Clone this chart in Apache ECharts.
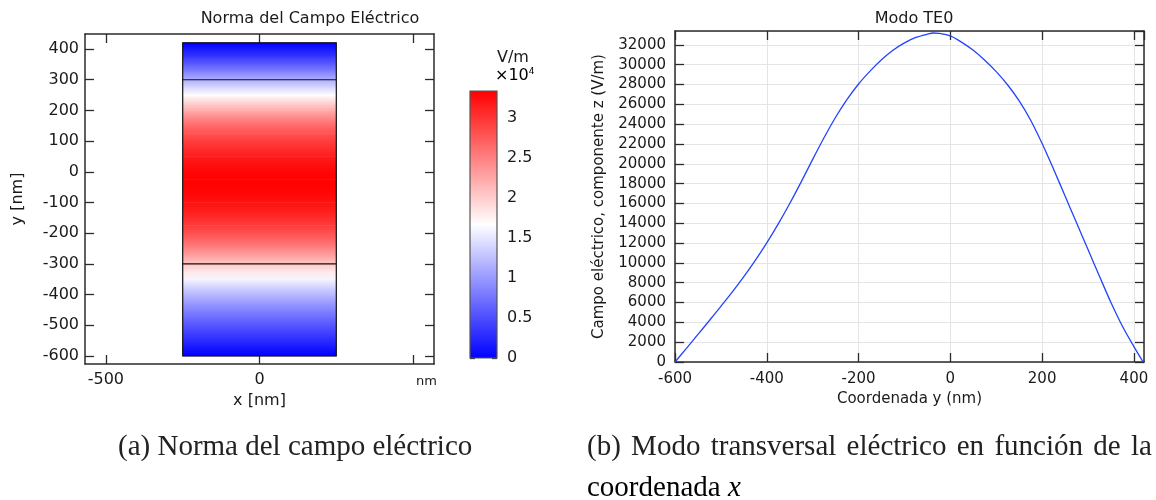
<!DOCTYPE html>
<html>
<head>
<meta charset="utf-8">
<script src="https://cdn.jsdelivr.net/npm/echarts@6/dist/echarts.min.js"></script>
<style>
  html, body { margin: 0; padding: 0; background: #ffffff; }
  #chart { width: 1156px; height: 500px; }
</style>
</head>
<body>
<div id="chart"></div>
<script>
// Perfil del modo TE0: coordenada y (nm) y componente z del campo eléctrico (V/m)
const coordY = [-600, -575, -550, -525, -500, -475, -450, -425, -400, -375, -350, -325, -300, -275, -250, -225, -200, -175, -150, -125, -100, -75, -50, -37, -25, 0, 25, 50, 75, 100, 125, 150, 175, 200, 225, 250, 275, 300, 325, 350, 375, 400, 420];
const campoEz = [0, 1380, 2780, 4190, 5620, 7080, 8620, 10260, 12020, 13930, 15990, 18180, 20450, 22650, 24700, 26500, 28050, 29350, 30500, 31450, 32200, 32750, 33080, 33200, 33170, 32900, 32250, 31450, 30450, 29300, 27950, 26350, 24400, 22050, 19450, 16750, 14050, 11350, 8650, 6000, 3600, 1550, 0];

// Geometría de la guía (nm)
const dominioX = [-250, 250];
const dominioY = [-600, 420];
const nucleoY = [-300, 300];

// Escala de color (V/m) y marcas de la barra (×10^4 V/m)
const normaMax = 33300;
const barraTicks = [0, 0.5, 1, 1.5, 2, 2.5, 3];
const ejeXTicks = [-500, 0, 500];
const ejeXEtiquetas = [-500, 0];
const ejeYTicks = [-600, -500, -400, -300, -200, -100, 0, 100, 200, 300, 400];

const FONT = 'DejaVu Sans';
const TXT = '#1a1a1a';
const FRAME = '#2b2b2b';

// Mapa azul - blanco - rojo
const mapaStops = [[0, [0, 0, 255]], [0.5, [255, 255, 255]], [1, [255, 0, 0]]];
function colorDe(v) {
  const t = Math.max(0, Math.min(1, v / normaMax));
  for (let k = 1; k < mapaStops.length; k++) {
    const [t1, c1] = mapaStops[k];
    const [t0, c0] = mapaStops[k - 1];
    if (t <= t1) {
      const f = (t - t0) / (t1 - t0);
      const c = c0.map((a, j) => Math.round(a + (c1[j] - a) * f));
      return 'rgb(' + c.join(',') + ')';
    }
  }
  return 'rgb(255,0,0)';
}

// Franjas horizontales del mapa de la norma (constante en x)
const franjas = [];
for (let i = 0; i < coordY.length - 1; i++) {
  franjas.push([coordY[i], coordY[i + 1], Math.abs(campoEz[i]), Math.abs(campoEz[i + 1])]);
}

const chart = echarts.init(document.getElementById('chart'), null, { renderer: 'canvas' });

const tickStyle = { color: FRAME, width: 1.3 };
const lineStyle = { color: FRAME, width: 1.5 };
const marco = { onZero: false, lineStyle };
const plano = v => String(v);

const option = {
  backgroundColor: '#ffffff',
  animation: false,
  textStyle: { fontFamily: FONT, color: TXT },
  title: [
    { text: 'Norma del Campo Eléctrico', left: 305, top: 6, textAlign: 'center',
      textStyle: { fontFamily: FONT, fontSize: 16, fontWeight: 'normal', color: TXT } },
    { text: 'Modo TE0', left: 909, top: 6, textAlign: 'center',
      textStyle: { fontFamily: FONT, fontSize: 16, fontWeight: 'normal', color: TXT } }
  ],
  grid: [
    { left: 85, top: 34, width: 349, height: 330 },
    { left: 470, top: 91, width: 27, height: 267 },
    { left: 675, top: 31, width: 469, height: 331 }
  ],
  xAxis: [
    { gridIndex: 0, type: 'value', position: 'bottom', min: -568, max: 568,
      axisLine: marco, splitLine: { show: false },
      axisTick: { inside: true, length: 9, lineStyle: tickStyle, customValues: ejeXTicks },
      axisLabel: { customValues: ejeXEtiquetas, formatter: plano, fontFamily: FONT, fontSize: 16, color: TXT, margin: 8 },
      name: 'x [nm]', nameLocation: 'middle', nameGap: 22,
      nameTextStyle: { fontFamily: FONT, fontSize: 16, color: TXT } },
    { gridIndex: 0, type: 'value', position: 'top', min: -568, max: 568,
      axisLine: marco, splitLine: { show: false },
      axisTick: { inside: true, length: 9, lineStyle: tickStyle, customValues: ejeXTicks },
      axisLabel: { show: false } },
    { gridIndex: 1, type: 'value', min: 0, max: 1, show: false },
    { gridIndex: 2, type: 'value', position: 'bottom', min: -600, max: 422, interval: 200,
      axisLine: marco,
      splitLine: { show: true, lineStyle: { color: '#e4e4e4', width: 1 } },
      axisTick: { inside: true, length: 9, lineStyle: tickStyle },
      axisLabel: { showMaxLabel: false, formatter: plano, fontFamily: FONT, fontSize: 15, color: TXT, margin: 10 },
      name: 'Coordenada y (nm)', nameLocation: 'middle', nameGap: 23,
      nameTextStyle: { fontFamily: FONT, fontSize: 15, color: TXT } },
    { gridIndex: 2, type: 'value', position: 'top', min: -600, max: 422, interval: 200,
      axisLine: marco, splitLine: { show: false },
      axisTick: { inside: true, length: 9, lineStyle: tickStyle },
      axisLabel: { show: false } }
  ],
  yAxis: [
    { gridIndex: 0, type: 'value', position: 'left', min: -626, max: 449,
      axisLine: marco, splitLine: { show: false },
      axisTick: { inside: true, length: 9, lineStyle: tickStyle, customValues: ejeYTicks },
      axisLabel: { customValues: ejeYTicks, formatter: plano, fontFamily: FONT, fontSize: 16, color: TXT, margin: 6 },
      name: 'y [nm]', nameLocation: 'middle', nameGap: 59, nameRotate: 90,
      nameTextStyle: { fontFamily: FONT, fontSize: 16, color: TXT } },
    { gridIndex: 0, type: 'value', position: 'right', min: -626, max: 449,
      axisLine: marco, splitLine: { show: false },
      axisTick: { inside: true, length: 9, lineStyle: tickStyle, customValues: ejeYTicks },
      axisLabel: { show: false } },
    { gridIndex: 1, type: 'value', position: 'right', min: 0, max: normaMax / 1e4,
      axisLine: { show: false, onZero: false }, splitLine: { show: false },
      axisTick: { inside: true, length: 5, lineStyle: { color: '#333', width: 1.3 }, customValues: barraTicks },
      axisLabel: { customValues: barraTicks, formatter: plano, fontFamily: FONT, fontSize: 16, color: TXT, margin: 10 } },
    { gridIndex: 1, type: 'value', position: 'left', min: 0, max: normaMax / 1e4,
      axisLine: { show: false, onZero: false }, splitLine: { show: false },
      axisTick: { inside: true, length: 5, lineStyle: { color: '#333', width: 1.3 }, customValues: barraTicks },
      axisLabel: { show: false } },
    { gridIndex: 2, type: 'value', position: 'left', min: 0, max: 33400, interval: 2000,
      axisLine: marco,
      splitLine: { show: true, lineStyle: { color: '#e4e4e4', width: 1 } },
      axisTick: { inside: true, length: 9, lineStyle: tickStyle },
      axisLabel: { showMaxLabel: false, formatter: plano, fontFamily: FONT, fontSize: 15, color: TXT, margin: 9 },
      name: 'Campo eléctrico, componente z (V/m)', nameLocation: 'middle', nameGap: 68, nameRotate: 90,
      nameTextStyle: { fontFamily: FONT, fontSize: 15, color: TXT } },
    { gridIndex: 2, type: 'value', position: 'right', min: 0, max: 33400, interval: 2000,
      axisLine: marco, splitLine: { show: false },
      axisTick: { inside: true, length: 9, lineStyle: tickStyle },
      axisLabel: { show: false } }
  ],
  series: [
    // Mapa de color de la norma del campo
    {
      type: 'custom', xAxisIndex: 0, yAxisIndex: 0, silent: true, clip: true, z: 1,
      data: franjas,
      encode: { y: [0, 1] },
      renderItem: function (params, api) {
        const yA = api.value(0), yB = api.value(1);
        const vA = api.value(2), vB = api.value(3);
        const pTop = api.coord([dominioX[0], yB]);
        const pBot = api.coord([dominioX[1], yA]);
        return {
          type: 'rect',
          shape: { x: pTop[0], y: pTop[1] - 0.3, width: pBot[0] - pTop[0], height: pBot[1] - pTop[1] + 0.6 },
          style: {
            fill: new echarts.graphic.LinearGradient(0, 0, 0, 1, [
              { offset: 0, color: colorDe(vB) },
              { offset: 1, color: colorDe(vA) }
            ])
          }
        };
      }
    },
    // Contorno del dominio y fronteras del núcleo
    {
      type: 'custom', xAxisIndex: 0, yAxisIndex: 0, silent: true, z: 2,
      data: [[dominioY[0], dominioY[1]]],
      encode: { y: [0, 1] },
      renderItem: function (params, api) {
        const tl = api.coord([dominioX[0], dominioY[1]]);
        const br = api.coord([dominioX[1], dominioY[0]]);
        const hijos = [{
          type: 'rect',
          shape: { x: tl[0], y: tl[1], width: br[0] - tl[0], height: br[1] - tl[1] },
          style: { fill: null, stroke: '#111', lineWidth: 1.2 }
        }];
        nucleoY.forEach(function (yv) {
          const a = api.coord([dominioX[0], yv]);
          const b = api.coord([dominioX[1], yv]);
          hijos.push({ type: 'line', shape: { x1: a[0], y1: a[1], x2: b[0], y2: b[1] },
            style: { stroke: '#111', lineWidth: 1.2 } });
        });
        return { type: 'group', children: hijos };
      }
    },
    // Barra de color
    {
      type: 'custom', xAxisIndex: 2, yAxisIndex: 2, silent: true, z: 1,
      data: [[0, normaMax / 1e4]],
      encode: { y: [0, 1] },
      renderItem: function (params, api) {
        const tl = api.coord([0, api.value(1)]);
        const br = api.coord([1, api.value(0)]);
        return {
          type: 'rect',
          shape: { x: tl[0], y: tl[1], width: br[0] - tl[0], height: br[1] - tl[1] },
          style: {
            fill: new echarts.graphic.LinearGradient(0, 0, 0, 1, [
              { offset: 0, color: colorDe(normaMax) },
              { offset: 0.5, color: colorDe(normaMax / 2) },
              { offset: 1, color: colorDe(0) }
            ]),
            stroke: '#555', lineWidth: 1.2
          }
        };
      }
    },
    // Modo TE0
    {
      type: 'line', xAxisIndex: 3, yAxisIndex: 4,
      data: coordY.map((y, i) => [y, campoEz[i]]),
      showSymbol: false, smooth: 0.3,
      lineStyle: { color: '#2244ff', width: 1.3 },
      itemStyle: { color: '#2244ff' }
    }
  ],
  graphic: [
    { type: 'text', left: 416, top: 375,
      style: { text: 'nm', font: '13px "DejaVu Sans"', fill: TXT } },
    { type: 'text', left: 497, top: 50,
      style: { text: 'V/m', font: '16px "DejaVu Sans"', fill: TXT } },
    { type: 'text', left: 495, top: 67,
      style: {
        text: '{a|×10}{s|4}',
        rich: {
          a: { fontFamily: FONT, fontSize: 16, color: TXT, verticalAlign: 'bottom' },
          s: { fontFamily: FONT, fontSize: 9, color: TXT, verticalAlign: 'top', padding: [0, 0, 8, 0] }
        }
      } },
    { type: 'text', left: 118, top: 433,
      style: { text: '(a) Norma del campo eléctrico', font: '29px "Liberation Serif"', fill: '#222' } },
    { type: 'text', left: 587, top: 433,
      style: {
        text: ['(b)', 'Modo', 'transversal', 'eléctrico', 'en', 'función', 'de', 'la'].join('{sp| }'),
        rich: {
          sp: { fontFamily: 'Liberation Serif', fontSize: 29, width: 10.3, color: '#222' }
        },
        font: '29px "Liberation Serif"', fill: '#222'
      } },
    { type: 'text', left: 587, top: 474,
      style: {
        text: '{r|coordenada }{i|x}',
        rich: {
          r: { fontFamily: 'Liberation Serif', fontSize: 29, color: '#222' },
          i: { fontFamily: 'Liberation Serif', fontSize: 29, fontStyle: 'italic', color: '#222' }
        }
      } }
  ]
};

chart.setOption(option);
</script>
</body>
</html>
